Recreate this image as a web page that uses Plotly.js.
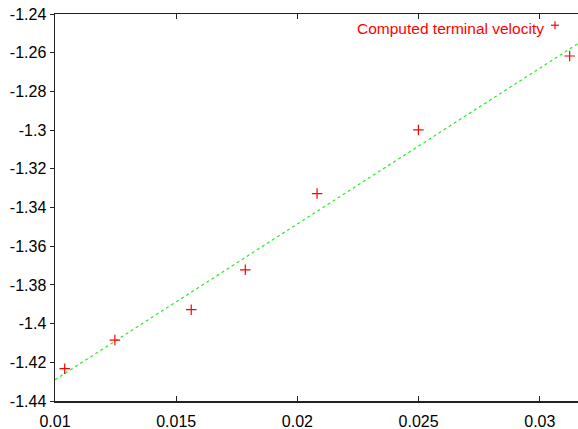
<!DOCTYPE html>
<html>
<head>
<meta charset="utf-8">
<script src="https://cdn.plot.ly/plotly-3.0.1.min.js"></script>
<style>html,body{margin:0;padding:0;background:#fff;}#chart{width:578px;height:429px;}</style>
</head>
<body>
<div id="chart"></div>
<script>
// Computed terminal velocity samples
const xValues = [0.0104, 0.01247, 0.01562, 0.01785, 0.02081, 0.02499, 0.03123];
const yValues = [-1.4233, -1.4085, -1.3928, -1.3722, -1.3328, -1.2999, -1.2617];
// Linear fit end points
const fitX = [0.01, 0.031574];
const fitY = [-1.429, -1.2553];
const xTicks = [0.01, 0.015, 0.02, 0.025, 0.03];
const xTickText = ['0.01', '0.015', '0.02', '0.025', '0.03'];
const yTicks = [-1.44, -1.42, -1.4, -1.38, -1.36, -1.34, -1.32, -1.3, -1.28, -1.26, -1.24];
const yTickText = ['-1.44', '-1.42', '-1.4', '-1.38', '-1.36', '-1.34', '-1.32', '-1.3', '-1.28', '-1.26', '-1.24'];
const legendLabel = 'Computed terminal velocity';

const traces = [
  {
    x: fitX, y: fitY, type: 'scatter', mode: 'lines',
    line: {color: '#22ee22', width: 1.2, dash: 'dot'},
    hoverinfo: 'skip', showlegend: false
  },
  {
    x: xValues, y: yValues, type: 'scatter', mode: 'markers',
    marker: {symbol: 'cross-thin', size: 7.5, line: {color: '#ff0000', width: 1.2}, color: '#ff0000'},
    name: legendLabel, showlegend: false
  }
];

const fontFamily = '"Liberation Sans", Arial, Helvetica, sans-serif';
const layout = {
  width: 578, height: 429,
  margin: {l: 55, r: 0, t: 14, b: 28},
  paper_bgcolor: '#fff', plot_bgcolor: '#fff',
  font: {family: fontFamily, size: 16, color: '#000'},
  xaxis: {
    range: [0.01, 0.031574], tickvals: xTicks, ticktext: xTickText,
    showgrid: false, zeroline: false, showline: true, linecolor: '#222', linewidth: 1.5,
    mirror: 'ticks', ticks: 'inside', ticklen: 5, tickwidth: 1, tickcolor: '#222',
    ticklabelstandoff: 5,
    tickfont: {family: fontFamily, size: 16, color: '#000'}
  },
  yaxis: {
    range: [-1.44, -1.24], tickvals: yTicks, ticktext: yTickText,
    showgrid: false, zeroline: false, showline: true, linecolor: '#222', linewidth: 1.5,
    mirror: false, ticks: 'outside', ticklen: 4, tickwidth: 1, tickcolor: '#222',
    tickfont: {family: fontFamily, size: 16, color: '#000'}
  },
  showlegend: false,
  annotations: [{
    text: legendLabel, xref: 'paper', yref: 'paper', x: 0.9388, y: 0.962,
    xanchor: 'right', yanchor: 'middle', showarrow: false,
    font: {family: fontFamily, size: 15.5, color: '#ff0000'}
  }],
  shapes: [
    {type: 'line', xref: 'paper', yref: 'paper', xsizemode: 'pixel', ysizemode: 'pixel',
     xanchor: 0.956, yanchor: 0.971, x0: -4, x1: 4, y0: 0, y1: 0,
     line: {color: '#ff0000', width: 1.2}},
    {type: 'line', xref: 'paper', yref: 'paper', xsizemode: 'pixel', ysizemode: 'pixel',
     xanchor: 0.956, yanchor: 0.971, x0: 0, x1: 0, y0: -4, y1: 4,
     line: {color: '#ff0000', width: 1.2}}
  ]
};

Plotly.newPlot('chart', traces, layout, {staticPlot: true, displayModeBar: false});
</script>
</body>
</html>
